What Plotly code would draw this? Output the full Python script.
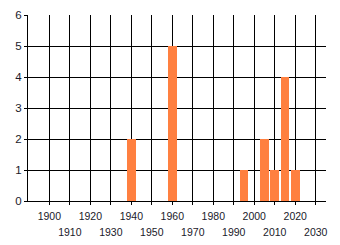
import plotly.graph_objects as go

years = [1940, 1960, 1995, 2005, 2010, 2015, 2020]
counts = [2, 5, 1, 2, 1, 4, 1]
tick_years = list(range(1900, 2031, 10))
y_ticks = [0, 1, 2, 3, 4, 5, 6]

span = "<span style='font-size:10.5px'>{}</span>"
tick_labels = [span.format(y) if i % 2 == 0 else "<br>" + span.format(y)
               for i, y in enumerate(tick_years)]

fig = go.Figure(go.Bar(
    x=years, y=counts, width=4.2,
    marker=dict(color="rgb(255,128,64)", line=dict(width=0)),
))

fig.update_layout(
    width=340, height=245,
    margin=dict(l=28, r=14, t=15, b=44),
    paper_bgcolor="white", plot_bgcolor="white",
    font=dict(family="Liberation Sans, Arial, sans-serif", size=10.5, color="#1a1a2a"),
    showlegend=False,
    bargap=0,
)
fig.update_xaxes(
    range=[1889.6, 2035], tickvals=tick_years, ticktext=tick_labels,
    tickfont=dict(size=12.3), automargin=False,
    showgrid=True, gridcolor="black", gridwidth=1,
    showline=True, linecolor="black", linewidth=1,
    ticks="outside", ticklen=3, tickcolor="black", tickangle=0,
    zeroline=False,
)
fig.update_yaxes(
    range=[0, 6], tickvals=y_ticks, automargin=False,
    tickfont=dict(size=11.5),
    showgrid=True, gridcolor="black", gridwidth=1,
    showline=True, linecolor="black", linewidth=1,
    ticks="outside", ticklen=3, tickcolor="black",
    zeroline=False,
)

fig.write_html("out.html")
